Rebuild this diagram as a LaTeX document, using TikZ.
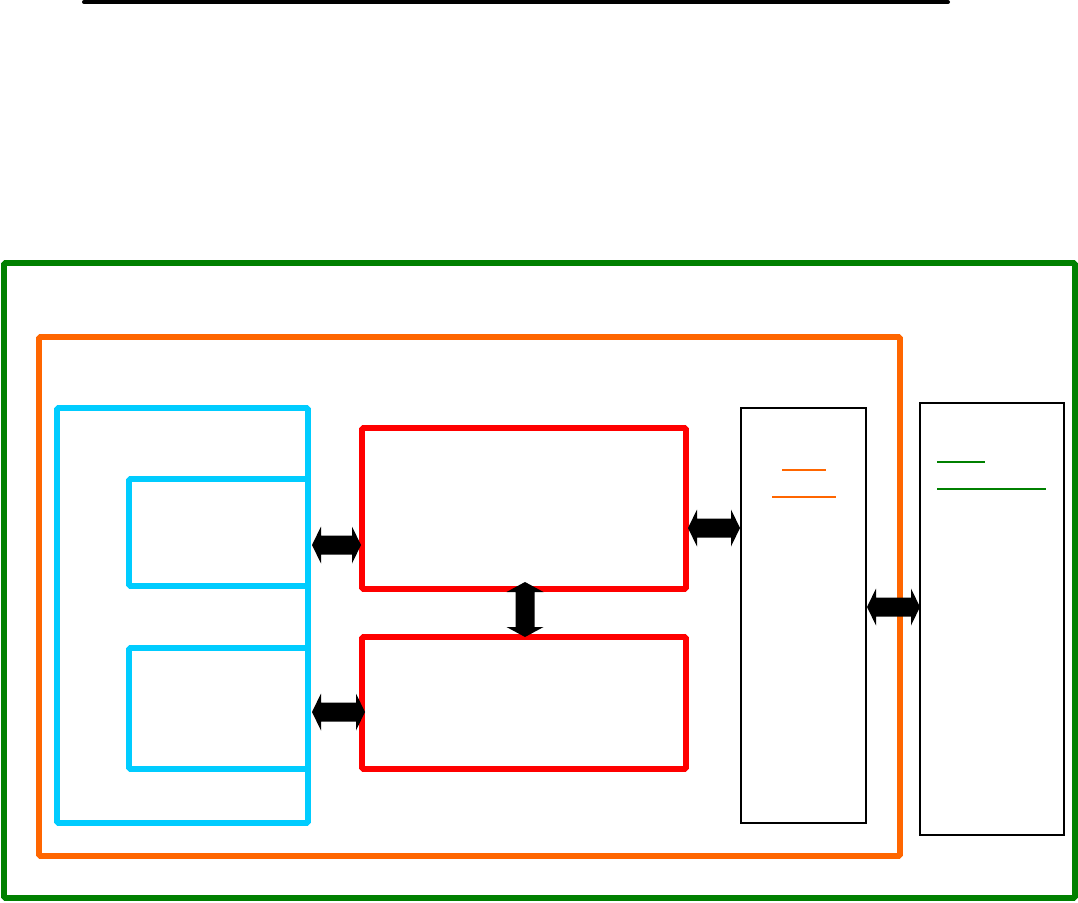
\documentclass[tikz,border=0pt]{standalone}
\usetikzlibrary{calc}
\definecolor{dgreen}{RGB}{0,128,0}
\definecolor{orng}{RGB}{255,102,0}
\definecolor{cyn}{RGB}{0,204,255}
\definecolor{rd}{RGB}{255,0,0}
\tikzset{
  frame/.style={draw=#1, line width=5.7pt, rounded corners=1.5pt, inner sep=0pt, outer sep=0pt, anchor=north west},
  thinbox/.style={draw=black, line width=1.5pt, inner sep=0pt, outer sep=0pt, anchor=north west},
  bigarrow/.style={fill=black},
  uline/.style={line width=#1}
}
% horizontal block double arrow between two named coordinates (left, right)
\newcommand\BlkArrowH[2]{%
  \fill[bigarrow] let \p1=(#1), \p2=(#2) in
    (\x1,\y1) -- (\x1+9pt,\y1+18.5pt) -- (\x1+9pt,\y1+9.5pt) -- (\x2-9pt,\y1+9.5pt)
    -- (\x2-9pt,\y1+18.5pt) -- (\x2,\y1) -- (\x2-9pt,\y1-18.5pt) -- (\x2-9pt,\y1-9.5pt)
    -- (\x1+9pt,\y1-9.5pt) -- (\x1+9pt,\y1-18.5pt) -- cycle;}
% vertical block double arrow between two named coordinates (top, bottom)
\newcommand\BlkArrowV[2]{%
  \fill[bigarrow] let \p1=(#1), \p2=(#2) in
    (\x1,\y1) -- (\x1+18.5pt,\y1-10pt) -- (\x1+9.5pt,\y1-10pt) -- (\x1+9.5pt,\y2+10pt)
    -- (\x1+18.5pt,\y2+10pt) -- (\x1,\y2) -- (\x1-18.5pt,\y2+10pt) -- (\x1-9.5pt,\y2+10pt)
    -- (\x1-9.5pt,\y1-10pt) -- (\x1-18.5pt,\y1-10pt) -- cycle;}
\begin{document}
\begin{tikzpicture}[x=1pt,y=-1pt]
\useasboundingbox (0,0) rectangle (1078,902);
% top rule
\coordinate (tl) at (84,2);
\coordinate (tr) at (948,2);
\draw[line width=4pt, line cap=round] (tl) -- (tr);
% frames
\node[frame=dgreen, minimum width=1071pt, minimum height=635pt] (green) at (4,263) {};
\node[frame=orng, minimum width=861pt, minimum height=519pt] (orange) at (39,337) {};
\node[frame=cyn, minimum width=251pt, minimum height=415pt] (cyanout) at (57,408) {};
\node[frame=cyn, minimum width=179pt, minimum height=107pt] (cyan1) at (129,479) {};
\node[frame=cyn, minimum width=179pt, minimum height=121pt] (cyan2) at (129,648) {};
\node[frame=rd, minimum width=324pt, minimum height=161pt] (red1) at (362,428) {};
\node[frame=rd, minimum width=324pt, minimum height=132pt] (red2) at (362,637) {};
\node[thinbox, minimum width=125pt, minimum height=415pt] (blk1) at (741,408) {};
\node[thinbox, minimum width=144pt, minimum height=432pt] (blk2) at (920,403) {};
% underlines
\coordinate (o1a) at (782,470); \coordinate (o1b) at (826,470);
\coordinate (o2a) at (772,497); \coordinate (o2b) at (836,497);
\draw[orng, uline=1.6pt] (o1a) -- (o1b);
\draw[orng, uline=1.6pt] (o2a) -- (o2b);
\coordinate (g1a) at (937,462); \coordinate (g1b) at (985,462);
\coordinate (g2a) at (937,489); \coordinate (g2b) at (1046,489);
\draw[dgreen, uline=2.6pt] (g1a) -- (g1b);
\draw[dgreen, uline=2.6pt] (g2a) -- (g2b);
% arrows
\coordinate (a1l) at (312,545); \coordinate (a1r) at (361,545);
\coordinate (a2l) at (312,712); \coordinate (a2r) at (365,712);
\coordinate (a3l) at (688,528); \coordinate (a3r) at (740,528);
\coordinate (a4l) at (867,607); \coordinate (a4r) at (920,607);
\coordinate (a5t) at (525,582); \coordinate (a5b) at (525,637);
\BlkArrowH{a1l}{a1r}
\BlkArrowH{a2l}{a2r}
\BlkArrowH{a3l}{a3r}
\BlkArrowH{a4l}{a4r}
\BlkArrowV{a5t}{a5b}
\end{tikzpicture}
\end{document}
